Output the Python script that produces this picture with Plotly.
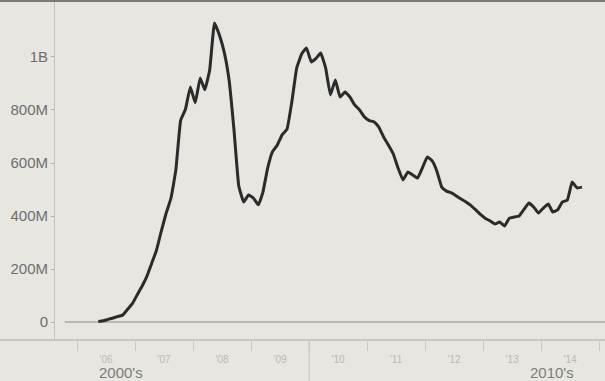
import pandas as pd
import plotly.graph_objects as go

# Monthly values (millions), May 2006 - Sep 2014
values_m = [
    2, 5, 10, 15, 21, 26, 48, 69, 103, 136,
    170, 220, 269, 342, 409, 467, 574, 761, 804, 887,
    827, 921, 876, 951, 1128, 1083, 1019, 913, 725, 513,
    453, 479, 468, 442, 487, 581, 642, 668, 706, 728,
    834, 959, 1011, 1034, 981, 996, 1015, 959, 857, 913,
    849, 868, 849, 819, 800, 774, 760, 755, 736, 698,
    668, 634, 581, 536, 566, 555, 543, 581, 623, 608,
    570, 509, 494, 487, 476, 464, 453, 440, 423, 406,
    391, 381, 370, 377, 362, 392, 396, 400, 425, 449,
    434, 411, 430, 445, 415, 423, 453, 460, 528, 506,
    509,
]
start_month = "2006-05-01"
dates = pd.date_range(start_month, periods=len(values_m), freq="MS") + pd.Timedelta(days=14)

y_tickvals = [0, 200, 400, 600, 800, 1000]
y_ticktext = ["0", "200M", "400M", "600M", "800M", "1B"]
decade_labels = ["2000's", "2010's"]
decade_pos = ["2006-10-05", "2014-03-10"]

bg = "#e7e6e1"
fig = go.Figure()
fig.add_trace(go.Scatter(
    x=dates, y=values_m, mode="lines",
    line=dict(color="#2b2b2b", width=3, shape="spline", smoothing=0.3),
    hoverinfo="skip", showlegend=False,
))

fig.update_layout(
    width=605, height=381,
    margin=dict(l=55, r=0, t=2, b=41),
    paper_bgcolor=bg, plot_bgcolor=bg,
    font=dict(family="Liberation Sans, Arial, sans-serif"),
    xaxis=dict(
        type="date",
        range=["2005-08-15", "2015-02-07"],
        dtick="M12", tick0="2006-01-01",
        ticklabelmode="period", tickformat="'%y",
        ticks="outside", ticklen=10, tickcolor="#c8c8c8", tickwidth=1,
        tickfont=dict(size=10, color="#b9b9b9"),
        showgrid=False, zeroline=False, showline=False,
    ),
    yaxis=dict(
        range=[-67.9, 1207.5],
        tickvals=y_tickvals, ticktext=y_ticktext,
        ticks="outside", ticklen=3, tickcolor="#b0b0b0",
        tickfont=dict(size=15, color="#6e6e6e"),
        showgrid=False, zeroline=False,
        showline=True, linecolor="#c2c2c2", linewidth=1,
    ),
)

# zero baseline
fig.add_shape(type="line", xref="x domain", yref="y", x0=0.018, x1=1, y0=0, y1=0,
              line=dict(color="#a9a9a9", width=1.5), layer="below")
# bottom axis rule across the full width
fig.add_shape(type="line", xref="paper", yref="paper", x0=-0.11, x1=1, y0=0, y1=0,
              line=dict(color="#bdbdbd", width=1.5))
# top border
fig.add_shape(type="line", xref="paper", yref="paper", x0=-0.11, x1=1, y0=1.003, y1=1.003,
              line=dict(color="#7a7a7a", width=2))
# decade divider
fig.add_shape(type="line", xref="x", yref="paper", x0="2010-01-01", x1="2010-01-01",
              y0=0, y1=-0.125, line=dict(color="#c4c4c4", width=1))

for lab, pos in zip(decade_labels, decade_pos):
    fig.add_annotation(x=pos, xref="x", y=-0.095, yref="paper", text=lab,
                       showarrow=False, font=dict(size=15, color="#7d7d7d"),
                       xanchor="center", yanchor="middle")

fig.write_html("out.html", config={"displayModeBar": False},
               post_script="document.body.style.margin='0px';document.body.style.overflow='hidden';")
